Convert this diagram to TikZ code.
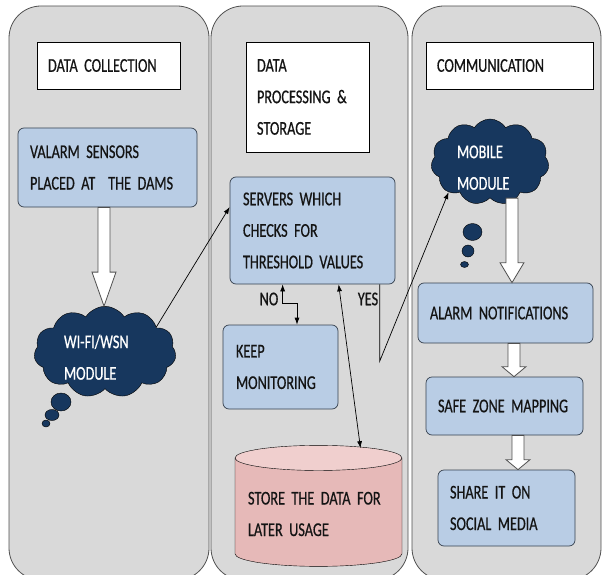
\documentclass[tikz,border=0pt]{standalone}
\usepackage{fontspec}
\setmainfont{Carlito}[FakeStretch=0.73, FakeBold=0.6, WordSpace=0.6]
\usepackage{xcolor}
\usepackage{tikz}
\usetikzlibrary{arrows.meta,positioning,shapes.symbols,shapes.geometric,calc}

\definecolor{panelgray}{HTML}{D9D9D9}
\definecolor{panelline}{HTML}{505050}
\definecolor{boxblue}{HTML}{B9CDE5}
\definecolor{boxline}{HTML}{36414F}
\definecolor{cloudnavy}{HTML}{17375E}
\definecolor{storepink}{HTML}{E6B9B8}
\definecolor{storetop}{HTML}{F0CFCE}
\definecolor{textdark}{HTML}{141414}

\newcommand{\diagfont}{\fontsize{19.5}{31.5}\selectfont
  \hyphenpenalty=10000\exhyphenpenalty=10000}
% white block arrow between two nodes: [x shift]{from}{to}{head length}
\newcommand{\hollowarrow}[4][0pt]{%
  \draw[hollow] let \p1=([xshift=#1]#2.south), \p2=(#3.north) in
    (\x1-6pt,\y1) -- (\x1-6pt,\y2+#4) -- (\x1-12pt,\y2+#4) -- (\x1,\y2)
    -- (\x1+12pt,\y2+#4) -- (\x1+6pt,\y2+#4) -- (\x1+6pt,\y1) -- cycle;}

\begin{document}
\begin{tikzpicture}[x=1pt, y=-1pt,
  panel/.style={draw=panelline, fill=panelgray, rounded corners=32pt, line width=0.8pt},
  title/.style={draw=black, fill=white, align=left, inner xsep=11pt,
    font=\diagfont, text=textdark},
  box/.style={draw=boxline, fill=boxblue, rounded corners=6pt, align=left,
    inner xsep=12pt, font=\diagfont, text=textdark, line width=0.7pt},
  puff/.style={cloud, cloud puffs=11, cloud puff arc=115, draw=black,
    fill=cloudnavy, text=white, align=left, font=\diagfont, inner sep=-12pt,
    text height=24pt},
  bubble/.style={draw=black, fill=cloudnavy},
  drum/.style={cylinder, shape border rotate=90, aspect=0.17, draw=black,
    cylinder uses custom fill, cylinder body fill=storepink,
    cylinder end fill=storetop, align=left, font=\diagfont, text=textdark},
  lbl/.style={font=\diagfont, text=textdark, inner sep=0pt},
  conn/.style={-{Latex[length=7pt,width=5pt]}, line width=0.7pt},
  twoway/.style={{Latex[length=7pt,width=5pt]}-{Latex[length=7pt,width=5pt]},
    line width=0.7pt},
  hollow/.style={draw=panelline, fill=white, line width=0.8pt}
]
\useasboundingbox (0,0) rectangle (602,575);

% three columns
\draw[panel] (9,6) rectangle (209,580);
\draw[panel] (211,6) rectangle (408,580);
\draw[panel] (412,6) rectangle (601,580);

% column titles
\node[title, minimum width=143, minimum height=47, text width=121] (tcoll)
  at (108.5,65.5) {DATA COLLECTION};
\node[title, minimum width=123, minimum height=110, text width=101] (tproc)
  at (307.5,97) {DATA\\PROCESSING \&\\STORAGE};
\node[title, minimum width=167, minimum height=47, text width=145] (tcomm)
  at (509.5,65.5) {COMMUNICATION};

% data collection
\node[box, minimum width=179, minimum height=79, text width=155] (sensors)
  at (107.5,167.5) {VALARM SENSORS\\PLACED AT~ THE DAMS};
\node[puff, minimum width=142, minimum height=90, text width=82] (wifi)
  at (105,352) {WI-FI/WSN\\MODULE};
\draw[bubble] (61,402) ellipse (10 and 9);
\draw[bubble] (52,415) ellipse (7 and 5.5);
\draw[bubble] (46,423.5) ellipse (4 and 3.5);

% data processing & storage
\node[box, minimum width=165, minimum height=107, text width=139] (servers)
  at (312.5,230.5) {SERVERS WHICH\\CHECKS FOR\\THRESHOLD VALUES};
\node[box, minimum width=115, minimum height=84, text width=89] (keep)
  at (280.5,367) {KEEP\\MONITORING};
\node[drum, minimum width=167, minimum height=121, text width=141] (storage)
  at (318.5,514) {STORE THE DATA FOR\\LATER USAGE};
\node[lbl] (no) at (269,299) {NO};
\node[lbl] (yes) at (368,299) {YES};

% communication
\node[puff, minimum width=118, minimum height=86, text width=66] (mobile)
  at (490,162) {MOBILE\\MODULE};
\draw[bubble] (472.5,232) ellipse (9.5 and 8.5);
\draw[bubble] (468,251) ellipse (6 and 6);
\draw[bubble] (464.5,264.5) ellipse (4 and 3);
\node[box, minimum width=175, minimum height=60, text width=151] (alarm)
  at (505.5,313) {ALARM NOTIFICATIONS};
\node[box, minimum width=157, minimum height=58, text width=133] (safe)
  at (504.5,406) {SAFE ZONE MAPPING};
\node[box, minimum width=137, minimum height=76, text width=113] (share)
  at (506.5,508) {SHARE IT ON\\SOCIAL MEDIA};

% block arrows
\hollowarrow[-3.5pt]{sensors}{wifi}{34pt}
\hollowarrow[22pt]{mobile}{alarm}{20pt}
\hollowarrow[8.5pt]{alarm}{safe}{10pt}
\hollowarrow[13.5pt]{safe}{share}{10pt}

% connectors
\draw[conn] (wifi.26) -- ([yshift=23.5pt]servers.west);
\draw[twoway] ([xshift=53pt]servers.south west) -- ++(0,19)
  -| ([xshift=16.5pt]keep.north);
\draw[twoway] ([xshift=109pt]servers.south west)
  -- ([xshift=42pt,yshift=-3pt]storage.north);
\draw[conn] ([xshift=150pt]servers.south west) -- ++(0,77)
  -- (mobile.south west);

\end{tikzpicture}
\end{document}
